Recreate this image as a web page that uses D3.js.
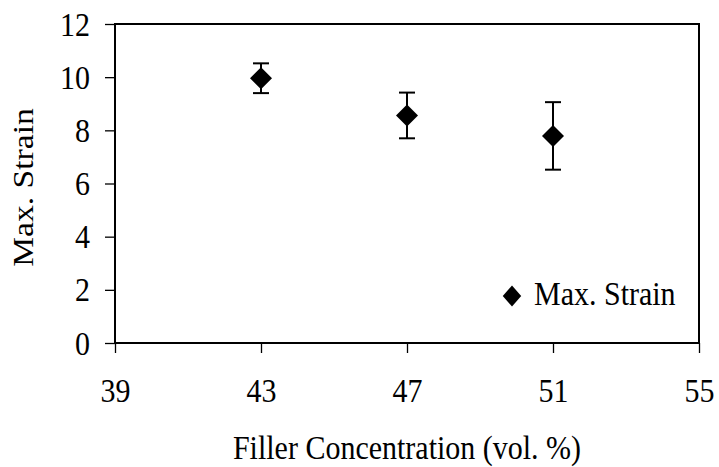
<!DOCTYPE html>
<html>
<head>
<meta charset="utf-8">
<script src="https://cdn.jsdelivr.net/npm/d3@7"></script>
<style>
  body { margin: 0; background: #fff; }
  text { font-family: "Liberation Serif", "Times New Roman", serif; fill: #000; }
</style>
</head>
<body>
<div id="chart"></div>
<script>
var width = 719,
    height = 467;

// data
var concentration = [43, 47, 51];
var maxStrain = [9.96, 8.56, 7.79];
var strainErr = [0.56, 0.86, 1.27];
var xTicks = [39, 43, 47, 51, 55];
var yTicks = [0, 2, 4, 6, 8, 10, 12];
var seriesName = "Max. Strain";

var margin = {top: 24, right: 20, bottom: 124, left: 115};
var stretch = 1.12; // the original text is a bit taller than wide

var xScale = d3.scaleLinear().domain([39, 55]).range([margin.left, width - margin.right]),
    yScale = d3.scaleLinear().domain([0, 12]).range([height - margin.bottom, margin.top]);

var points = concentration.map(function(c, i) {
    return {x: c, y: maxStrain[i], err: strainErr[i]};
});

var svg = d3.select("#chart")
    .append("svg")
    .attr("width", width)
    .attr("height", height);

// plot box
svg.append("rect")
    .attr("x", xScale(39))
    .attr("y", yScale(12))
    .attr("width", xScale(55) - xScale(39))
    .attr("height", yScale(0) - yScale(12))
    .attr("fill", "none")
    .attr("stroke", "#000")
    .attr("stroke-width", 2);

// X-axis
var xAxis = d3.axisBottom(xScale).tickValues(xTicks).tickSize(10).tickFormat(d3.format("d"));
var gx = svg.append("g")
    .attr("transform", "translate(0," + yScale(0) + ")")
    .call(xAxis);
gx.select(".domain").remove();
gx.selectAll("line").attr("stroke-width", 1.3);
gx.selectAll("text")
    .attr("y", 0).attr("dy", null)
    .attr("transform", "translate(0,59) scale(1," + stretch + ")")
    .style("font-size", "30px");

// Y-axis
var yAxis = d3.axisLeft(yScale).tickValues(yTicks).tickSize(10).tickFormat(d3.format("d"));
var gy = svg.append("g")
    .attr("transform", "translate(" + xScale(39) + ",0)")
    .call(yAxis);
gy.select(".domain").remove();
gy.selectAll("line").attr("stroke-width", 1.3);
gy.selectAll("text")
    .attr("x", 0).attr("dy", null)
    .attr("transform", "translate(-25,11) scale(1," + stretch + ")")
    .style("font-size", "30px");

// axis titles
svg.append("text")
    .attr("transform", "translate(" + (xScale(39) + xScale(55)) / 2 + ",459) scale(1," + stretch + ")")
    .attr("text-anchor", "middle")
    .style("font-size", "30px")
    .text("Filler Concentration (vol. %)");

svg.append("text")
    .attr("transform", "translate(33," + ((yScale(0) + yScale(12)) / 2 + 4) + ") rotate(-90) scale(" + stretch + ",1)")
    .attr("text-anchor", "middle")
    .style("font-size", "30px")
    .text("Max. Strain");

// error bars
var capW = 8;
var bars = svg.selectAll(".err")
    .data(points)
    .enter().append("g")
    .attr("class", "err")
    .attr("stroke", "#000")
    .attr("stroke-width", 2);

bars.append("line")
    .attr("x1", function(d) { return xScale(d.x); })
    .attr("x2", function(d) { return xScale(d.x); })
    .attr("y1", function(d) { return yScale(d.y + d.err); })
    .attr("y2", function(d) { return yScale(d.y - d.err); });

bars.append("line")
    .attr("x1", function(d) { return xScale(d.x) - capW; })
    .attr("x2", function(d) { return xScale(d.x) + capW; })
    .attr("y1", function(d) { return yScale(d.y + d.err); })
    .attr("y2", function(d) { return yScale(d.y + d.err); });

bars.append("line")
    .attr("x1", function(d) { return xScale(d.x) - capW; })
    .attr("x2", function(d) { return xScale(d.x) + capW; })
    .attr("y1", function(d) { return yScale(d.y - d.err); })
    .attr("y2", function(d) { return yScale(d.y - d.err); });

// diamond markers
var diamond = d3.symbol().type(d3.symbolSquare).size(242);

svg.selectAll(".pt")
    .data(points)
    .enter().append("path")
    .attr("class", "pt")
    .attr("d", diamond)
    .attr("transform", function(d) { return "translate(" + xScale(d.x) + "," + yScale(d.y) + ") rotate(45)"; })
    .attr("fill", "#000");

// legend
var legend = svg.append("g").attr("transform", "translate(512,296)");
legend.append("path")
    .attr("d", d3.symbol().type(d3.symbolSquare).size(170))
    .attr("transform", "scale(1,1.15) rotate(45)")
    .attr("fill", "#000");
legend.append("text")
    .attr("transform", "translate(22,9) scale(1," + stretch + ")")
    .style("font-size", "30px")
    .text(seriesName);
</script>
</body>
</html>
